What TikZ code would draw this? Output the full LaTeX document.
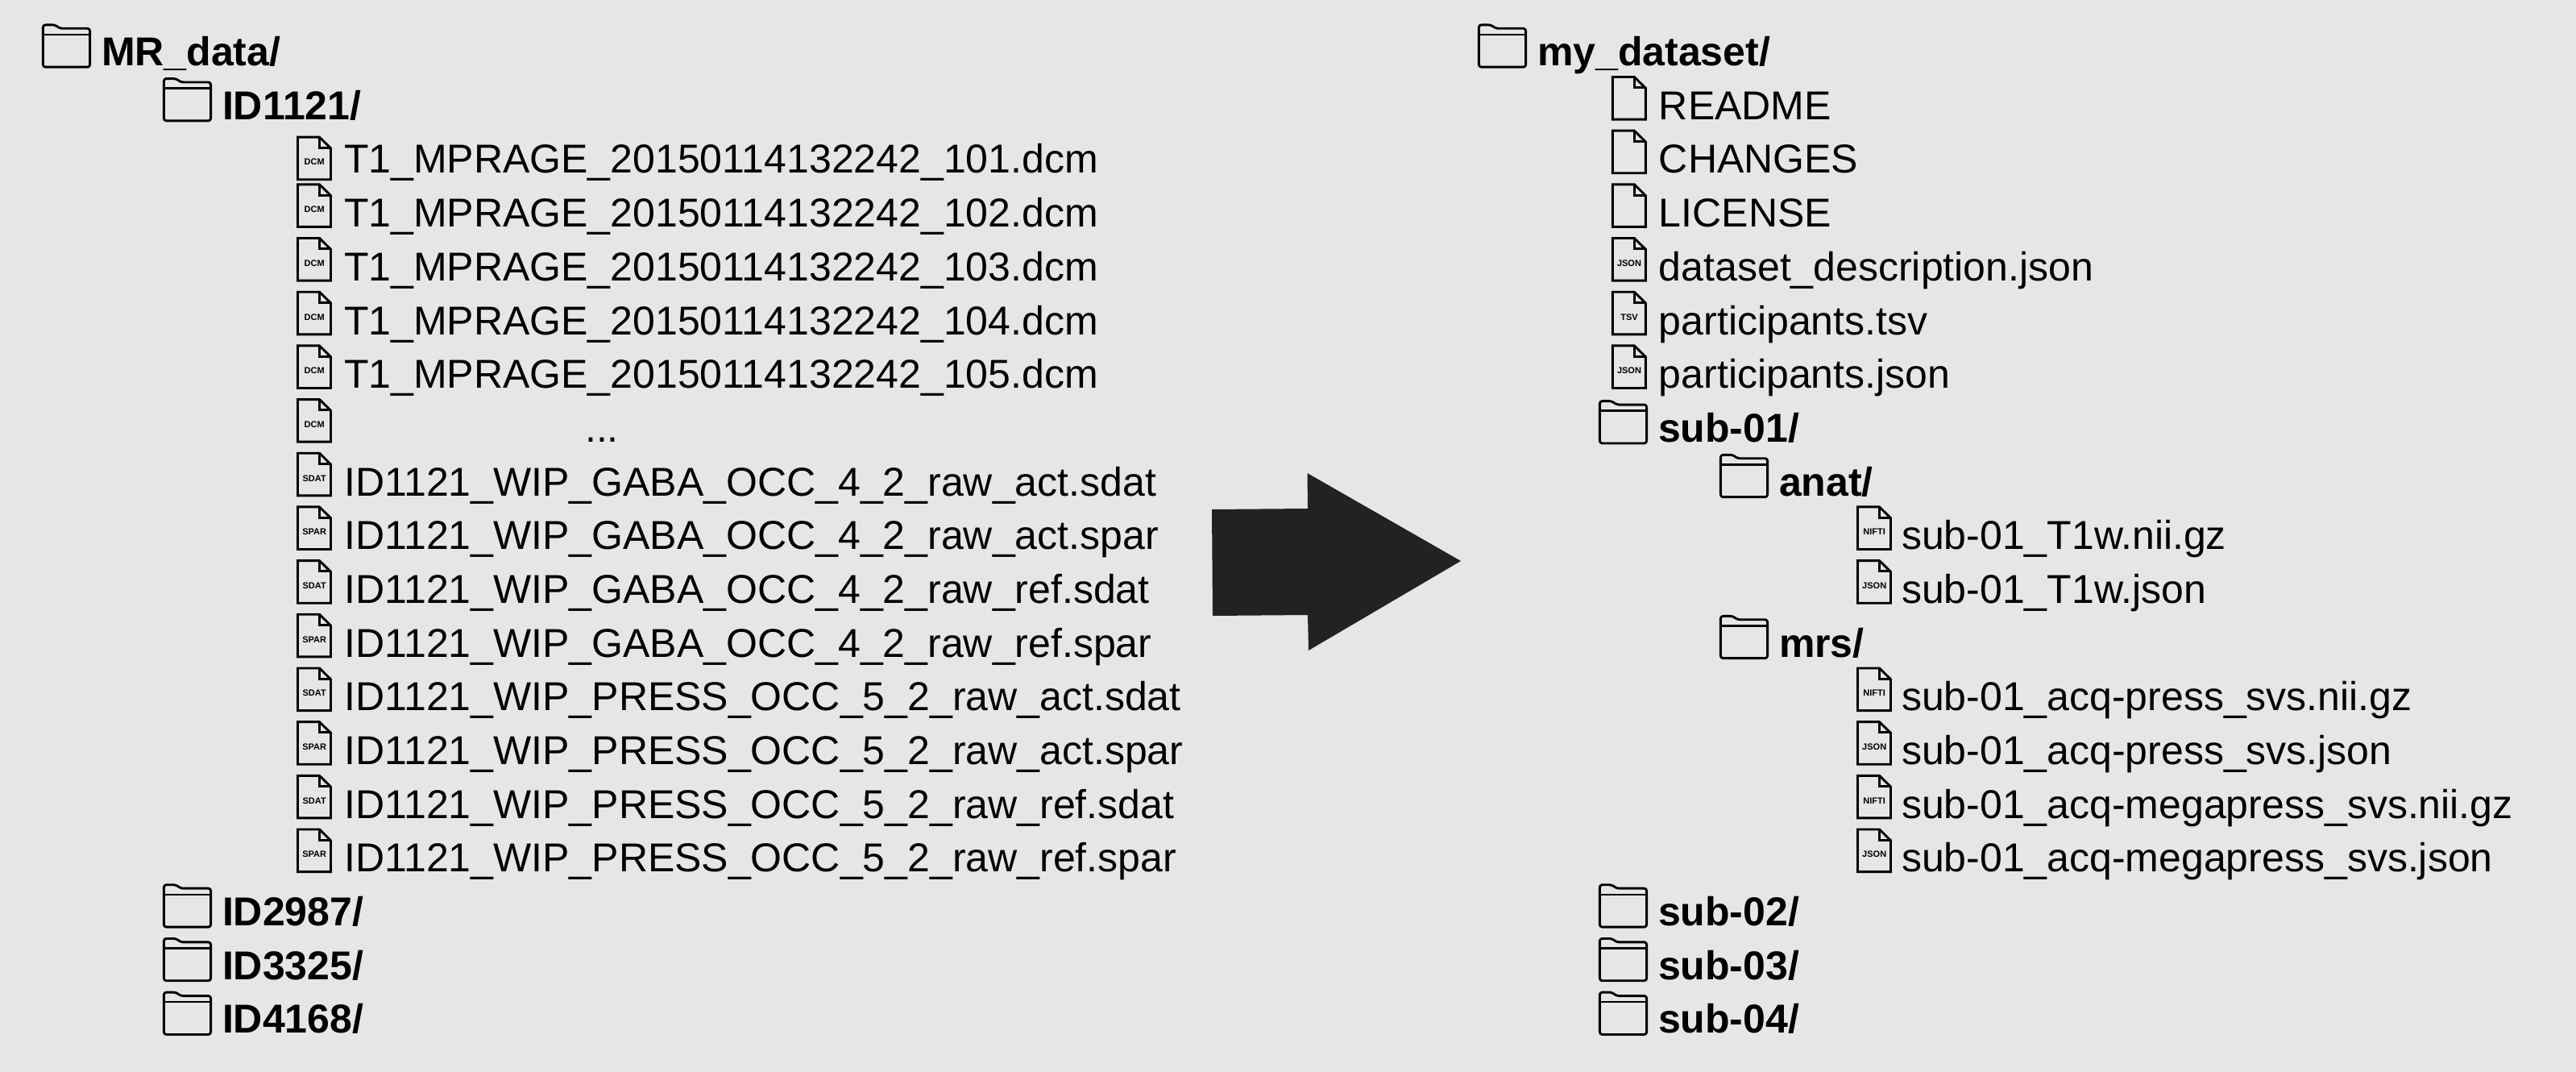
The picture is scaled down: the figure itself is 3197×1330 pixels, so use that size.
\documentclass[tikz,border=0pt]{standalone}
\usepackage{fontspec}
\setmainfont{Liberation Sans}
\definecolor{bgc}{HTML}{E6E6E6}
\definecolor{arrowc}{HTML}{222222}
\tikzset{
  x=1pt,y=-1pt,
  rowtext/.style={anchor=base west,inner sep=0pt,outer sep=0pt,font=\fontsize{50}{60}\selectfont,text=black},
  foldertext/.style={rowtext,font=\fontsize{50}{60}\selectfont\bfseries},
  iconline/.style={draw=black,line width=2.9pt,line join=miter},
  icontag/.style={anchor=base,inner sep=0pt,font=\fontsize{11}{12}\selectfont\bfseries,text=black},
  pics/docicon/.style={code={
    \draw[iconline] (0,-52.8) -- (27,-52.8) -- (41,-39) -- (41,-0.2) -- (0,-0.2) -- cycle;
    \draw[iconline] (27,-52.8) -- (27,-39.5) -- (41,-39.5);
    \node[icontag] at (20.7,-18) {#1};
  }},
  pics/foldericon/.style={code={
    \draw[iconline,line join=round,rounded corners=3pt] (0,-50.7) -- (15,-50.7) -- (21,-46.3) -- (58.2,-46.3) -- (58.2,1.6) -- (0,1.6) -- cycle;
    \draw[iconline,line width=2.4pt] (0,-38.7) -- (58.2,-38.7);
  }},
}
\newcommand{\rowy}[1]{{81.6+66.68*#1}}
\newcommand{\folderrow}[4]{%
  \pic at (#2,\rowy{#3}) {foldericon};
  \node[foldertext] (#1) at (#2+72.6,\rowy{#3}) {#4};}
\newcommand{\filerow}[6][57.6]{%
  \pic at (#3,\rowy{#4}) {docicon={#5}};
  \node[rowtext] (#2) at (#3+#1,\rowy{#4}) {#6};}
\begin{document}
\begin{tikzpicture}
\path[use as bounding box,fill=bgc] (0,0) rectangle (3197,1330);
% left tree
\folderrow{mrdata}{53.4}{0}{MR\_data/}
\folderrow{idA}{203.4}{1}{ID1121/}
\pic at (369.5,{81.6+66.68*2+8}) {docicon={DCM}};
\node[rowtext] (dA) at (427.1,\rowy{2}) {T1\_MPRAGE\_20150114132242\_101.dcm};
\filerow{dB}{369.5}{3}{DCM}{T1\_MPRAGE\_20150114132242\_102.dcm}
\filerow{dC}{369.5}{4}{DCM}{T1\_MPRAGE\_20150114132242\_103.dcm}
\filerow{dD}{369.5}{5}{DCM}{T1\_MPRAGE\_20150114132242\_104.dcm}
\filerow{dE}{369.5}{6}{DCM}{T1\_MPRAGE\_20150114132242\_105.dcm}
\pic at (369.5,\rowy{7}) {docicon={DCM}};
\node[rowtext,anchor=base] (dots) at (747,\rowy{7}) {...};
\filerow{gA}{369.5}{8}{SDAT}{ID1121\_WIP\_GABA\_OCC\_4\_2\_raw\_act.sdat}
\filerow{gB}{369.5}{9}{SPAR}{ID1121\_WIP\_GABA\_OCC\_4\_2\_raw\_act.spar}
\filerow{gC}{369.5}{10}{SDAT}{ID1121\_WIP\_GABA\_OCC\_4\_2\_raw\_ref.sdat}
\filerow{gD}{369.5}{11}{SPAR}{ID1121\_WIP\_GABA\_OCC\_4\_2\_raw\_ref.spar}
\filerow{pA}{369.5}{12}{SDAT}{ID1121\_WIP\_PRESS\_OCC\_5\_2\_raw\_act.sdat}
\filerow{pB}{369.5}{13}{SPAR}{ID1121\_WIP\_PRESS\_OCC\_5\_2\_raw\_act.spar}
\filerow{pC}{369.5}{14}{SDAT}{ID1121\_WIP\_PRESS\_OCC\_5\_2\_raw\_ref.sdat}
\filerow{pD}{369.5}{15}{SPAR}{ID1121\_WIP\_PRESS\_OCC\_5\_2\_raw\_ref.spar}
\folderrow{idB}{203.4}{16}{ID2987/}
\folderrow{idC}{203.4}{17}{ID3325/}
\folderrow{idD}{203.4}{18}{ID4168/}
% arrow
\fill[arrowc] (1504,632) -- (1623,631) -- (1622.5,587) -- (1813,696) -- (1624,807) -- (1623,763) -- (1505,764) -- cycle;
% right tree
\folderrow{myds}{1835.4}{0}{my\_dataset/}
\filerow{readme}{2001.3}{1}{}{README}
\filerow{changes}{2001.3}{2}{}{CHANGES}
\filerow{license}{2001.3}{3}{}{LICENSE}
\filerow{dsdesc}{2001.3}{4}{JSON}{dataset\_description.json}
\filerow{ptsv}{2001.3}{5}{TSV}{participants.tsv}
\filerow{pjson}{2001.3}{6}{JSON}{participants.json}
\folderrow{subA}{1985.4}{7}{sub-01/}
\folderrow{anat}{2135.4}{8}{anat/}
\filerow[54.5]{tA}{2305.5}{9}{NIFTI}{sub-01\_T1w.nii.gz}
\filerow[54.5]{tB}{2305.5}{10}{JSON}{sub-01\_T1w.json}
\folderrow{mrs}{2135.4}{11}{mrs/}
\filerow[54.5]{mA}{2305.5}{12}{NIFTI}{sub-01\_acq-press\_svs.nii.gz}
\filerow[54.5]{mB}{2305.5}{13}{JSON}{sub-01\_acq-press\_svs.json}
\filerow[54.5]{mC}{2305.5}{14}{NIFTI}{sub-01\_acq-megapress\_svs.nii.gz}
\filerow[54.5]{mD}{2305.5}{15}{JSON}{sub-01\_acq-megapress\_svs.json}
\folderrow{subB}{1985.4}{16}{sub-02/}
\folderrow{subC}{1985.4}{17}{sub-03/}
\folderrow{subD}{1985.4}{18}{sub-04/}
\end{tikzpicture}
\end{document}
